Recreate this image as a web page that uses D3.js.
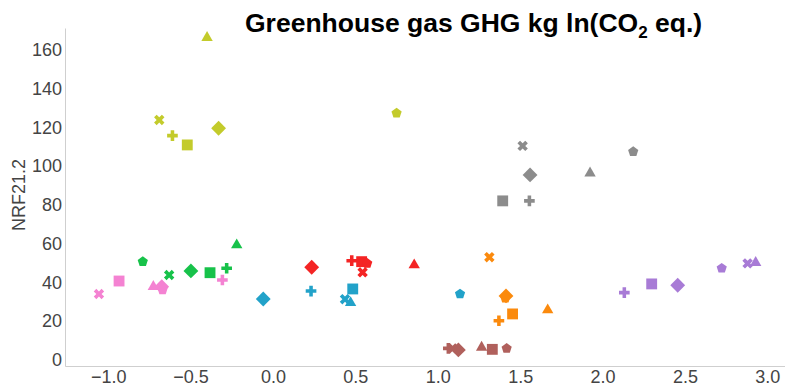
<!DOCTYPE html>
<html>
<head>
<meta charset="utf-8">
<script src="https://cdn.jsdelivr.net/npm/d3@7"></script>
<style>
  body { margin: 0; background: #fff; }
  svg { font-family: "Liberation Sans", Arial, sans-serif; }
  .tick text { fill: #444; font-size: 18px; }
  .domain { stroke: #cfcfcf; }
</style>
</head>
<body>
<svg width="785" height="387"></svg>
<script>
// marker shape order, same in every group below
var shapes = ["triangle", "x", "plus", "square", "diamond", "pentagon"];

var groups = ["yellow", "gray", "green", "pink", "blue", "red", "orange", "brown", "purple"];
var colors = ["#c3cb2b", "#8c8c8c", "#17c24a", "#f482d2", "#22a2c9", "#f42424", "#fb8a0d", "#b0605c", "#a87bd6"];

var yellowX = [-0.40, -0.69, -0.61, -0.52, -0.33, 0.75];
var yellowY = [166, 123.5, 115.4, 110.6, 119.2, 127];
var grayX = [1.924, 1.515, 1.556, 1.394, 1.56, 2.186];
var grayY = [96, 110.1, 81.7, 81.7, 95.1, 107.1];
var greenX = [-0.22, -0.63, -0.281, -0.382, -0.498, -0.79];
var greenY = [58.9, 43.4, 46.9, 44.6, 45.5, 50.3];
var pinkX = [-0.726, -1.056, -0.307, -0.934, -0.675, -0.67];
var pinkY = [37.4, 33.6, 40.8, 40.3, 37.4, 35.7];
var blueX = [0.471, 0.437, 0.231, 0.484, -0.059, 1.135];
var blueY = [29.1, 30.9, 35.1, 36.2, 31, 33.6];
var redX = [0.857, 0.544, 0.478, 0.538, 0.235, 0.572];
var redY = [48.6, 44.8, 50.8, 50.3, 47.4, 49.4];
var orangeX = [1.667, 1.313, 1.371, 1.454, 1.414, 1.41];
var orangeY = [25.3, 52.6, 19.8, 23.3, 32.6, 31.4];
var brownX = [1.266, 1.09, 1.064, 1.331, 1.125, 1.418];
var brownY = [6, 5.5, 5.5, 5, 4.7, 5.5];
var purpleX = [2.929, 2.88, 2.132, 2.298, 2.456, 2.723];
var purpleY = [49.8, 49.4, 34.3, 38.8, 38.1, 46.9];

var xTicks = [-1.0, -0.5, 0.0, 0.5, 1.0, 1.5, 2.0, 2.5, 3.0];
var yTicks = [0, 20, 40, 60, 80, 100, 120, 140, 160];

var allX = [yellowX, grayX, greenX, pinkX, blueX, redX, orangeX, brownX, purpleX];
var allY = [yellowY, grayY, greenY, pinkY, blueY, redY, orangeY, brownY, purpleY];

var svg = d3.select("svg"),
    plotLeft = 65, plotRight = 785, plotTop = 28, plotBottom = 366;

var x = d3.scaleLinear().domain([-1.262, 3.107]).range([plotLeft, plotRight]);
var y = d3.scaleLinear().domain([-3.6, 171]).range([plotBottom, plotTop]);

var pentagon = {
  draw: function(ctx, size) {
    var r = Math.sqrt(size / 2.378);
    for (var i = 0; i < 5; i++) {
      var a = -Math.PI / 2 + i * 2 * Math.PI / 5;
      if (i == 0) ctx.moveTo(r * Math.cos(a), r * Math.sin(a));
      else ctx.lineTo(r * Math.cos(a), r * Math.sin(a));
    }
    ctx.closePath();
  }
};

var shapeDefs = {
  triangle: { type: d3.symbolTriangle, size: 56, rot: 0 },
  x:        { type: d3.symbolCross,    size: 68, rot: 45 },
  plus:     { type: d3.symbolCross,    size: 63, rot: 0 },
  square:   { type: d3.symbolSquare,   size: 118, rot: 0 },
  diamond:  { type: d3.symbolSquare,   size: 110, rot: 45 },
  pentagon: { type: pentagon,          size: 68, rot: 0 }
};

var points = [];
groups.forEach(function(gname, gi) {
  shapes.forEach(function(s, si) {
    points.push({ group: gname, color: colors[gi], shape: s, x: allX[gi][si], y: allY[gi][si] });
  });
});

// axes
svg.append("g")
    .attr("transform", "translate(" + plotLeft + ",0)")
    .call(d3.axisLeft(y).tickValues(yTicks).tickSize(0).tickSizeOuter(0).tickPadding(3))
    .call(function(g) { g.selectAll(".tick text").attr("dy", "0.36em"); });

svg.append("g")
    .attr("transform", "translate(0," + plotBottom + ")")
    .call(d3.axisBottom(x).tickValues(xTicks).tickSize(0).tickSizeOuter(0).tickPadding(4)
      .tickFormat(function(d) { return d3.format(".1f")(d).replace("-", "\u2212"); }));

svg.selectAll(".domain").attr("stroke", "#cfcfcf");

// points
svg.append("g").selectAll("path")
  .data(points)
  .enter().append("path")
    .attr("d", function(d) { var s = shapeDefs[d.shape]; return d3.symbol().type(s.type).size(s.size)(); })
    .attr("transform", function(d) {
      return "translate(" + x(d.x) + "," + y(d.y) + ") rotate(" + shapeDefs[d.shape].rot + ")";
    })
    .attr("fill", function(d) { return d.color; });

// y label
svg.append("text")
    .attr("transform", "translate(25,195) rotate(-90)")
    .attr("text-anchor", "middle")
    .attr("fill", "#444")
    .style("font-size", "18px")
    .text("NRF21.2");

// title
var title = svg.append("text")
    .attr("x", 245).attr("y", 32)
    .attr("fill", "#000")
    .style("font-size", "26.5px")
    .style("font-weight", "bold");
title.append("tspan").text("Greenhouse gas GHG kg ln(CO");
title.append("tspan").attr("dy", 6).style("font-size", "17px").text("2");
title.append("tspan").attr("dy", -6).text(" eq.)");
</script>
</body>
</html>
